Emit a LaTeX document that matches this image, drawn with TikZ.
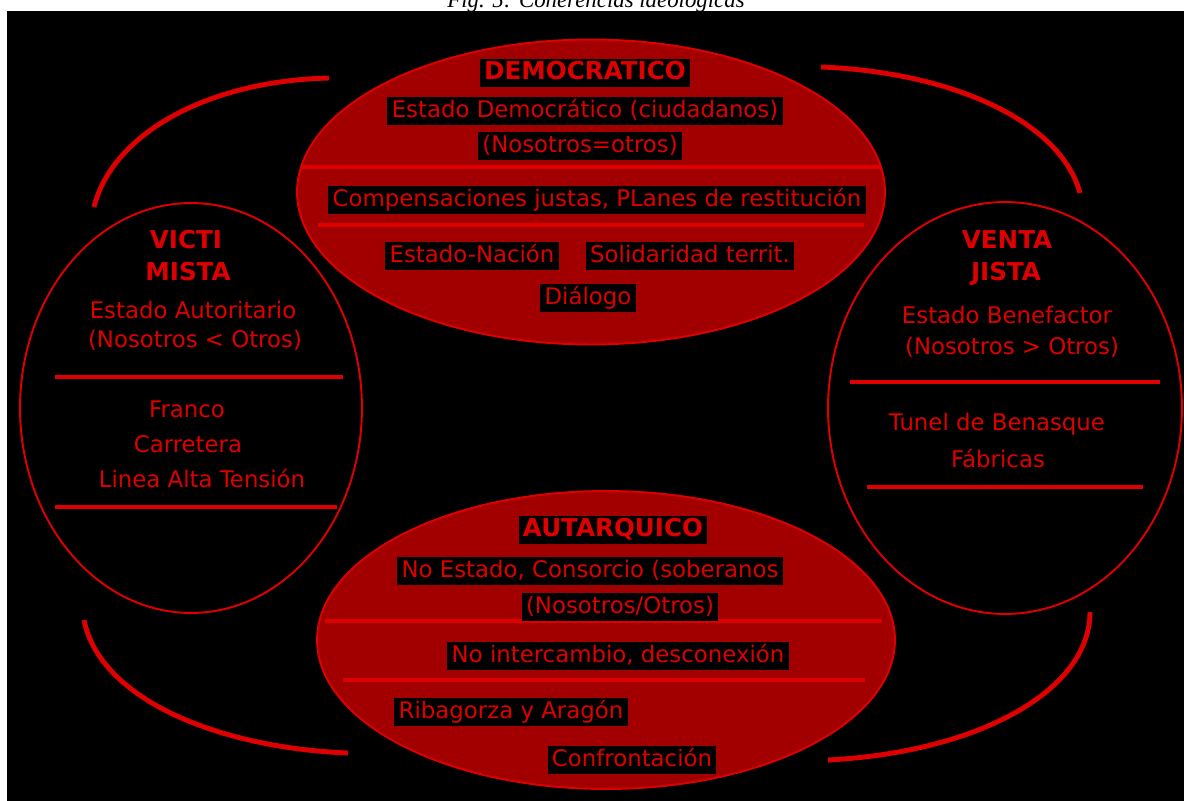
\documentclass[tikz,border=0pt]{standalone}
\usepackage{fontspec}
\setmainfont{Liberation Serif}
\newfontfamily\pixfont{DejaVu Sans}
\usetikzlibrary{shapes.geometric}
\definecolor{rojo}{RGB}{222,0,0}
\definecolor{trama}{RGB}{162,0,0}

\begin{document}
\begin{tikzpicture}[x=0.02cm,y=-0.02cm,
  every node/.style={font=\pixfont\fontsize{13}{15}\selectfont,text=rojo,anchor=base},
  zona/.style={ellipse,draw=rojo,line width=1.1pt,inner sep=0pt,anchor=center},
  titulo/.style={font=\pixfont\bfseries\fontsize{14}{16}\selectfont},
  caja/.style={fill=black,inner xsep=2.5pt,inner ysep=1.5pt,text height=9.8pt,text depth=3pt},
  raya/.style={draw=rojo,line width=2.6pt},
  arco/.style={draw=rojo,line width=2.8pt}]
  \useasboundingbox (0,0) rectangle (1184,801);
  \clip (0,0) rectangle (1184,801);
  \fill[black] (7,11) rectangle (1184,801);
  \node[text=black,font=\itshape\fontsize{13}{15}\selectfont] (fig) at (596,8) {Fig. 5: Coherencias ideológicas};

  % corner arcs
  \coordinate (dv1) at (329,78);  \coordinate (dv2) at (94,207);
  \coordinate (dn1) at (821,67);  \coordinate (dn2) at (1080,193);
  \coordinate (va1) at (84,620);  \coordinate (va2) at (348,753);
  \coordinate (na1) at (1090,612); \coordinate (na2) at (828,760);
  \draw[arco] (dv1) .. controls (205,81) and (112,135) .. (dv2);
  \draw[arco] (dn1) .. controls (950,72) and (1060,120) .. (dn2);
  \draw[arco] (va1) .. controls (100,700) and (220,748) .. (va2);
  \draw[arco] (na1) .. controls (1090,690) and (980,752) .. (na2);

  % the four ellipses
  \node[zona,fill=trama,minimum width=11.76cm,minimum height=6.1cm] (dem) at (591,192) {};
  \node[zona,fill=trama,minimum width=11.56cm,minimum height=5.96cm] (aut) at (606,640) {};
  \node[zona,minimum width=6.84cm,minimum height=8.2cm] (vic) at (191,408) {};
  \node[zona,minimum width=7.08cm,minimum height=8.24cm] (ven) at (1005,408) {};

  % democratico
  \draw[raya] (302,167) -- (880,167);
  \draw[raya] (318,225) -- (864,225);
  \node[caja,titulo] (dem-t) at (585,79) {DEMOCRATICO};
  \node[caja] (dem-1) at (585,117) {Estado Democrático (ciudadanos)};
  \node[caja] (dem-2) at (580,152) {(Nosotros=otros)};
  \node[caja] (dem-3) at (597,206) {Compensaciones justas, PLanes de restitución};
  \node[caja] (dem-4) at (472,262) {Estado-Nación};
  \node[caja] (dem-5) at (690,262) {Solidaridad territ.};
  \node[caja] (dem-6) at (588,304) {Diálogo};

  % victimista
  \draw[raya] (55,377) -- (343,377);
  \draw[raya] (55,507) -- (337,507);
  \node[titulo] (vic-t1) at (186,248) {VICTI};
  \node[titulo] (vic-t2) at (188,280) {MISTA};
  \node (vic-1) at (193,318) {Estado Autoritario};
  \node (vic-2) at (195,347) {(Nosotros < Otros)};
  \node (vic-3) at (187,417) {Franco};
  \node (vic-4) at (188,452) {Carretera};
  \node (vic-5) at (202,487) {Linea Alta Tensión};

  % ventajista
  \draw[raya] (850,382) -- (1160,382);
  \draw[raya] (867,487) -- (1143,487);
  \node[titulo] (ven-t1) at (1007,248) {VENTA};
  \node[titulo] (ven-t2) at (1006,280) {JISTA};
  \node (ven-1) at (1007,323) {Estado Benefactor};
  \node (ven-2) at (1012,354) {(Nosotros > Otros)};
  \node (ven-3) at (997,430) {Tunel de Benasque};
  \node (ven-4) at (998,467) {Fábricas};

  % autarquico
  \draw[raya] (325,621) -- (882,621);
  \draw[raya] (343,680) -- (865,680);
  \node[caja,titulo] (aut-t) at (613,536) {AUTARQUICO};
  \node[caja] (aut-1) at (590,577) {No Estado, Consorcio (soberanos};
  \node[caja] (aut-2) at (620,613) {(Nosotros/Otros)};
  \node[caja] (aut-3) at (618,662) {No intercambio, desconexión};
  \node[caja] (aut-4) at (511,718) {Ribagorza y Aragón};
  \node[caja] (aut-5) at (632,766) {Confrontación};
\end{tikzpicture}
\end{document}
